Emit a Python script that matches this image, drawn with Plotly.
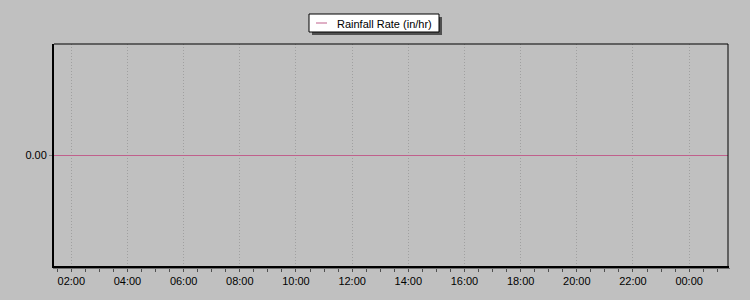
import plotly.graph_objects as go

# ---- data ----
times = [
    "2024-01-01 01:00", "2024-01-01 02:00", "2024-01-01 03:00", "2024-01-01 04:00",
    "2024-01-01 05:00", "2024-01-01 06:00", "2024-01-01 07:00", "2024-01-01 08:00",
    "2024-01-01 09:00", "2024-01-01 10:00", "2024-01-01 11:00", "2024-01-01 12:00",
    "2024-01-01 13:00", "2024-01-01 14:00", "2024-01-01 15:00", "2024-01-01 16:00",
    "2024-01-01 17:00", "2024-01-01 18:00", "2024-01-01 19:00", "2024-01-01 20:00",
    "2024-01-01 21:00", "2024-01-01 22:00", "2024-01-01 23:00", "2024-01-02 00:00",
    "2024-01-02 01:00", "2024-01-02 02:00",
]
rain_rate = [0.0, 0.0, 0.0, 0.0, 0.0, 0.0, 0.0, 0.0, 0.0, 0.0, 0.0, 0.0, 0.0,
             0.0, 0.0, 0.0, 0.0, 0.0, 0.0, 0.0, 0.0, 0.0, 0.0, 0.0, 0.0, 0.0]
series_name = "Rainfall Rate (in/hr)"
y_tick_vals = [0.0]
y_tick_text = ["0.00"]

W, H = 750, 300
L, R, T, B = 54, 728, 44, 267  # plot area in pixels
LINE_COLOR = "#c0608c"
BG = "#c0c0c0"
FONT = "Liberation Sans, Arial, sans-serif"


def px(x):
    return (x - L) / (R - L)


def py(y):
    return (B - y) / (B - T)


fig = go.Figure()
fig.add_trace(go.Scatter(x=times, y=rain_rate, mode="lines", name=series_name,
                         line=dict(color=LINE_COLOR, width=1), showlegend=False,
                         hoverinfo="skip"))

shapes = []
# plot border: thin top/right, thick left/bottom
shapes.append(dict(type="line", xref="paper", yref="paper", x0=0, x1=1, y0=1, y1=1,
                   line=dict(color="black", width=1)))
shapes.append(dict(type="line", xref="paper", yref="paper", x0=1, x1=1, y0=0, y1=1,
                   line=dict(color="black", width=1)))
shapes.append(dict(type="line", xref="paper", yref="paper", x0=px(53), x1=px(53),
                   y0=py(268), y1=1, line=dict(color="black", width=2)))
shapes.append(dict(type="line", xref="paper", yref="paper", x0=px(52), x1=px(729),
                   y0=py(267), y1=py(267), line=dict(color="black", width=2)))
shapes.append(dict(type="line", xref="paper", yref="paper", x0=px(53), x1=px(730),
                   y0=py(268.5), y1=py(268.5), line=dict(color="#707070", width=1)))

# custom legend box with drop shadow
lx0, lx1, ly0, ly1 = 309, 439, 14, 32
shapes.append(dict(type="rect", xref="paper", yref="paper",
                   x0=px(lx0 + 3), x1=px(lx1 + 3), y0=py(ly1 + 3), y1=py(ly0 + 3),
                   fillcolor="#505050", line=dict(width=0), layer="above"))
shapes.append(dict(type="rect", xref="paper", yref="paper",
                   x0=px(lx0), x1=px(lx1), y0=py(ly1), y1=py(ly0),
                   fillcolor="white", line=dict(color="black", width=1), layer="above"))
shapes.append(dict(type="line", xref="paper", yref="paper",
                   x0=px(316), x1=px(327), y0=py(23), y1=py(23),
                   line=dict(color=LINE_COLOR, width=1), layer="above"))

annotations = [dict(text=series_name, xref="paper", yref="paper", x=px(335), y=py(23.5),
                    xanchor="left", yanchor="middle", showarrow=False,
                    font=dict(family=FONT, size=11, color="black"))]

fig.update_layout(
    width=W, height=H,
    margin=dict(l=L, r=W - R, t=T, b=H - B, pad=0),
    paper_bgcolor=BG, plot_bgcolor=BG,
    font=dict(family=FONT, size=11, color="black"),
    showlegend=False,
    shapes=shapes,
    annotations=annotations,
    xaxis=dict(
        type="date",
        range=["2024-01-01 01:23", "2024-01-02 01:23"],
        tick0="2024-01-01 00:00", dtick=7200000, tickformat="%H:%M",
        showgrid=True, gridcolor="#a0a0a0", griddash="1px,2px", gridwidth=1,
        ticks="outside", ticklen=4, tickcolor="#505050", tickwidth=1,
        minor=dict(dtick=1800000, tick0="2024-01-01 00:00", ticks="outside",
                   ticklen=4, tickcolor="#505050", showgrid=False),
        showline=False, zeroline=False,
        tickfont=dict(family=FONT, size=11, color="black"),
    ),
    yaxis=dict(
        range=[-1, 1],
        tickvals=y_tick_vals, ticktext=y_tick_text,
        showgrid=False, zeroline=False, showline=False,
        ticks="outside", ticklen=4, tickcolor="#808080",
        tickfont=dict(family=FONT, size=11, color="black"),
    ),
)

fig.write_html("out.html")
